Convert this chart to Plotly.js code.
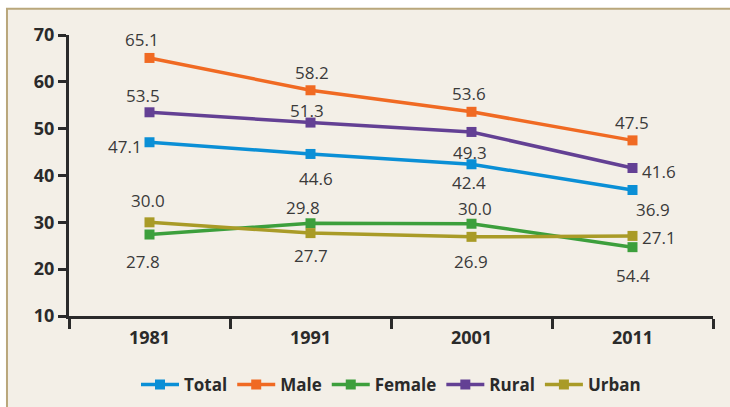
<!DOCTYPE html>
<html>
<head>
<meta charset="utf-8">
<script src="https://cdn.plot.ly/plotly-3.0.1.min.js"></script>
<style>
html,body{margin:0;padding:0;background:#fff;}
#chart{width:730px;height:407px;}
</style>
</head>
<body>
<div id="chart"></div>
<script>
const years = ['1981', '1991', '2001', '2011'];
const seriesNames = ['Total', 'Male', 'Female', 'Rural', 'Urban'];
const totalValues = [47.1, 44.6, 42.4, 36.9];
const maleValues = [65.1, 58.2, 53.6, 47.5];
const femaleValues = [27.4, 29.8, 29.7, 24.7];
const ruralValues = [53.5, 51.3, 49.3, 41.6];
const urbanValues = [30.0, 27.7, 26.9, 27.1];
// Data labels exactly as printed in the chart
const totalLabels = ['47.1', '44.6', '42.4', '36.9'];
const maleLabels = ['65.1', '58.2', '53.6', '47.5'];
const femaleLabels = ['27.8', '29.8', '30.0', '54.4'];
const ruralLabels = ['53.5', '51.3', '49.3', '41.6'];
const urbanLabels = ['30.0', '27.7', '26.9', '27.1'];
const yTicks = [10, 20, 30, 40, 50, 60, 70];

const colors = ['#0a8fd6', '#f06a23', '#3c9f3c', '#634094', '#a99b27'];
const values = [totalValues, maleValues, femaleValues, ruralValues, urbanValues];
const labels = [totalLabels, maleLabels, femaleLabels, ruralLabels, urbanLabels];
// pixel offsets of each data label from its marker [dx, dy] (screen, dy down)
const offsets = [
  [[-25, 4], [5, 25], [-3, 18], [20, 19]],
  [[-8, -18], [1, -18], [-3, -18], [-1, -18]],
  [[-7, 27], [-8, -16], [3, -15], [0, 28]],
  [[-7, -17], [-4, -12], [-2, 21], [26, 3]],
  [[-2, -22], [0, 22], [-1, 25], [26, 2]]
];

const traces = seriesNames.map((name, i) => ({
  type: 'scatter',
  mode: 'lines+markers',
  name: name,
  x: years,
  y: values[i],
  line: {color: colors[i], width: 3.5},
  marker: {color: colors[i], size: 10, symbol: 'square'},
  cliponaxis: false
}));

const annotations = [];
seriesNames.forEach((name, i) => {
  years.forEach((yr, j) => {
    annotations.push({
      x: j, y: values[i][j], xref: 'x', yref: 'y',
      text: labels[i][j], showarrow: false,
      xshift: offsets[i][j][0], yshift: -offsets[i][j][1],
      font: {family: 'Open Sans, sans-serif', size: 17, color: '#3a3a3a'}
    });
  });
});

const axisColor = '#2a2a2a';
const tickFont = {family: 'Open Sans, sans-serif', size: 18, color: '#2a2a2a', weight: 'bold'};
const layout = {
  width: 730,
  height: 407,
  margin: {l: 69, r: 17, t: 35, b: 91, autoexpand: false},
  paper_bgcolor: '#ffffff',
  plot_bgcolor: 'rgba(0,0,0,0)',
  font: {family: 'Open Sans, sans-serif', color: '#2a2a2a'},
  showlegend: true,
  legend: {
    orientation: 'h', x: 0.5, xanchor: 'center', y: -0.245, yanchor: 'middle',
    itemwidth: 38,
    font: {family: 'Open Sans, sans-serif', size: 17, color: '#2a2a2a', weight: 'bold'},
    bgcolor: 'rgba(0,0,0,0)'
  },
  xaxis: {
    type: 'category',
    range: [-0.5, 3.5],
    showline: true, linecolor: axisColor, linewidth: 3,
    ticks: 'outside', tickson: 'boundaries', ticklen: 10, tickwidth: 3, tickcolor: axisColor,
    ticklabelstandoff: 3,
    showgrid: false, zeroline: false,
    tickfont: tickFont
  },
  yaxis: {
    range: [10, 70],
    tickvals: yTicks,
    showline: true, linecolor: axisColor, linewidth: 3,
    ticks: 'outside', ticklen: 8, tickwidth: 3, tickcolor: axisColor,
    showgrid: false, zeroline: false,
    tickfont: tickFont
  },
  annotations: annotations,
  shapes: [{
    type: 'rect', xref: 'paper', yref: 'paper', layer: 'below',
    x0: -0.0963, x1: 1.2, y0: -0.5, y1: 1.093,
    fillcolor: '#f3efe7', line: {color: '#b9a77b', width: 2}
  }]
};

Plotly.newPlot('chart', traces, layout, {displayModeBar: false, staticPlot: true});
</script>
</body>
</html>
